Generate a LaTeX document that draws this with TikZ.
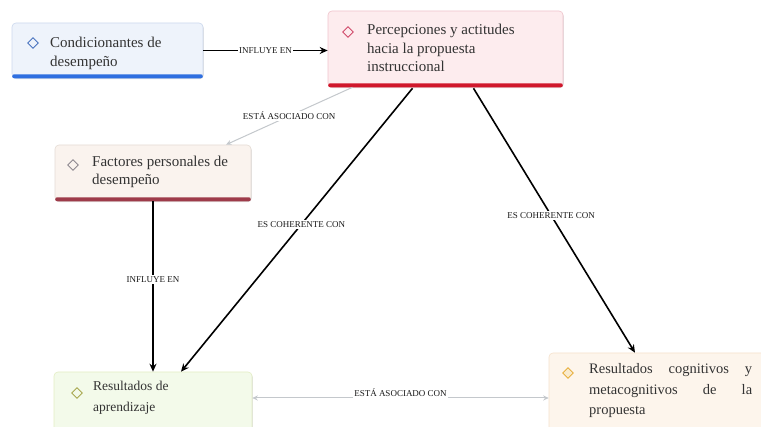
\documentclass[tikz,border=0pt]{standalone}
\usepackage{fontspec}
\setmainfont{Liberation Serif}
\usetikzlibrary{arrows.meta,shapes.geometric,shadows,calc}
\definecolor{fillA}{HTML}{EEF3FB}\definecolor{lineA}{HTML}{CCD9EE}\definecolor{bandA}{HTML}{2F6FE0}\definecolor{dA}{HTML}{4A74C0}
\definecolor{fillB}{HTML}{FDECEE}\definecolor{lineB}{HTML}{F0C4CC}\definecolor{bandB}{HTML}{D0182C}\definecolor{dB}{HTML}{D04A6A}
\definecolor{fillC}{HTML}{FAF3EE}\definecolor{lineC}{HTML}{E5DCD5}\definecolor{bandC}{HTML}{9E3B4A}\definecolor{dC}{HTML}{8E8890}
\definecolor{fillD}{HTML}{F3FAEA}\definecolor{lineD}{HTML}{E4EEC4}\definecolor{dD}{HTML}{A8A850}
\definecolor{fillE}{HTML}{FDF5EC}\definecolor{lineE}{HTML}{F6E2CC}\definecolor{dE}{HTML}{E8B040}
\definecolor{grayconn}{HTML}{C4C8CC}
\begin{document}
\begin{tikzpicture}[x=1pt,y=-1pt,
  box/.style={draw=#1, line width=0.6pt, rounded corners=4pt, inner sep=0pt,
    drop shadow={shadow xshift=0.8pt, shadow yshift=-1.2pt, opacity=0.12, fill=black}},
  mark/.style={draw=#1, diamond, line width=0.9pt, minimum size=11pt, inner sep=0pt},
  boxtext/.style={anchor=base west, inner sep=0pt, align=left, font=\fontsize{15}{18.5}\selectfont, text=black!80},
  lbl/.style={fill=white, inner sep=1.5pt, font=\fontsize{9}{10}\selectfont, text=black!90},
  blackarrow/.style={line width=1.6pt, black, -{Stealth[length=8pt,width=7pt]}},
  grayarrow/.style={line width=1pt, grayconn, -{Stealth[length=5.5pt,width=5pt]}}]
\useasboundingbox (0,0) rectangle (761,427);
\fill[white] (0,0) rectangle (761,427);

% boxes
\node (b1) [box=lineA, fill=fillA, minimum width=191pt, minimum height=55pt] at (107.5,50.5) {};
\node (b2) [box=lineB, fill=fillB, minimum width=235pt, minimum height=76pt] at (445.5,49) {};
\node (b3) [box=lineC, fill=fillC, minimum width=196pt, minimum height=56pt] at (153,173) {};
\node (b4) [box=lineD, fill=fillD, minimum width=198pt, minimum height=66pt] at (153,405) {};
\node (b5) [box=lineE, fill=fillE, minimum width=226pt, minimum height=85pt] at (662,395.5) {};

% bottom bands
\fill[bandA, rounded corners=2pt] ($(b1.south west)+(0.5,-4)$) rectangle ($(b1.south east)+(-0.5,0)$);
\fill[bandB, rounded corners=2pt] ($(b2.south west)+(0.5,-4)$) rectangle ($(b2.south east)+(-0.5,0)$);
\fill[bandC, rounded corners=2pt] ($(b3.south west)+(0.5,-4)$) rectangle ($(b3.south east)+(-0.5,0)$);

% diamonds
\node (m1) [mark=dA] at (33,43) {};
\node (m2) [mark=dB] at (348,32) {};
\node (m3) [mark=dC] at (73,165) {};
\node (m4) [mark=dD] at (77,393) {};
\node (m5) [mark=dE, fill=dE!25] at (568,373) {};

% texts (anchored at the baseline of the last line)
\node (t1) [boxtext] at (50,66.5) {Condicionantes de\\desempeño};
\node (t2) [boxtext] at (367,72) {Percepciones y actitudes\\hacia la propuesta\\instruccional};
\node (t3) [boxtext] at (92,185) {Factores personales de\\desempeño};
\node (t4) [boxtext, font=\fontsize{13.5}{21}\selectfont] at (93,411.5) {Resultados de\\aprendizaje};
\node (t5) [boxtext, font=\fontsize{14.5}{20.5}\selectfont] at (589,415) {\makebox[163pt][s]{Resultados cognitivos y}\\\makebox[163pt][s]{metacognitivos de la}\\propuesta};

% connectors
\coordinate (yline) at (0,398);
\coordinate (s2) at ($(b2.south)+(-93,0)$);
\coordinate (e3) at ($(b3.north)+(73,0)$);
\coordinate (s3) at ($(b2.south)+(-33,1)$);
\coordinate (e4) at ($(b4.north)+(28,0)$);
\coordinate (s4) at ($(b2.south)+(28,1)$);
\coordinate (e5) at ($(b5.north)+(-27,0)$);

\draw[blackarrow] (b1.east) -- (b1.east -| b2.west) node[lbl, midway] {INFLUYE EN};
\draw[grayarrow] (s2) -- (e3) node[lbl, pos=0.5] {ESTÁ ASOCIADO CON};
\draw[blackarrow] (s3) -- (e4) node[lbl, pos=0.48] {ES COHERENTE CON};
\draw[blackarrow] (s4) -- (e5) node[lbl, pos=0.48] {ES COHERENTE CON};
\draw[blackarrow] (b3.south) -- (b4.north) node[lbl, pos=0.46] {INFLUYE EN};
\draw[grayarrow, {Stealth[length=5.5pt,width=5pt]}-{Stealth[length=5.5pt,width=5pt]}] (b5.west |- yline) -- (b4.east |- yline) node[lbl, midway, yshift=5pt] {ESTÁ ASOCIADO CON};
\end{tikzpicture}
\end{document}
